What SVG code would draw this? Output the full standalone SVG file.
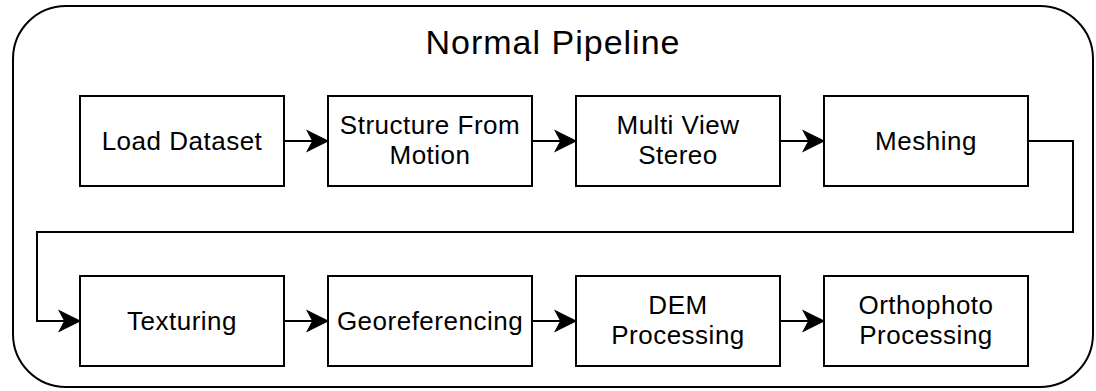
<svg xmlns="http://www.w3.org/2000/svg" width="1096" height="391" viewBox="0 0 1096 391">
<style>
.box{fill:#fff;stroke:#000;stroke-width:2}
.lbl{font-family:"Liberation Sans",Arial,sans-serif;font-size:26px;letter-spacing:0.5px;fill:#000;text-anchor:middle}
.title{font-family:"Liberation Sans",Arial,sans-serif;font-size:34px;letter-spacing:1px;fill:#000;text-anchor:middle}
.conn{fill:none;stroke:#000;stroke-width:2;marker-end:url(#arr)}
</style>
<defs>
<marker id="arr" markerUnits="userSpaceOnUse" markerWidth="24" markerHeight="24" viewBox="-20 -11 22 22" refX="0" refY="0" orient="auto">
<path d="M0,0 L-19,-9.5 L-14,0 L-19,9.5 Z" fill="#000" stroke="#000" stroke-width="1"/>
</marker>
</defs>
<g id="container">
<rect x="13" y="6" width="1080" height="381" rx="53" ry="53" fill="#fff" stroke="#000" stroke-width="2"/>
<text class="title" x="553" y="54">Normal Pipeline</text>
</g>
<g id="connectors">
<path class="conn" d="M284,141 H328"/>
<path class="conn" d="M532,141 H576"/>
<path class="conn" d="M780,141 H824"/>
<path class="conn" d="M1028,141 H1073 V232 H37 V321 H80"/>
<path class="conn" d="M284,321 H328"/>
<path class="conn" d="M532,321 H576"/>
<path class="conn" d="M780,321 H824"/>
</g>
<g id="load-dataset">
<rect class="box" x="80" y="96" width="204" height="90"/>
<text class="lbl" x="182" y="150">Load Dataset</text>
</g>
<g id="structure-from-motion">
<rect class="box" x="328" y="96" width="204" height="90"/>
<text class="lbl" x="430" y="134">Structure From</text>
<text class="lbl" x="430" y="164">Motion</text>
</g>
<g id="multi-view-stereo">
<rect class="box" x="576" y="96" width="204" height="90"/>
<text class="lbl" x="678" y="134">Multi View</text>
<text class="lbl" x="678" y="164">Stereo</text>
</g>
<g id="meshing">
<rect class="box" x="824" y="96" width="204" height="90"/>
<text class="lbl" x="926" y="150">Meshing</text>
</g>
<g id="texturing">
<rect class="box" x="80" y="276" width="204" height="90"/>
<text class="lbl" x="182" y="330">Texturing</text>
</g>
<g id="georeferencing">
<rect class="box" x="328" y="276" width="204" height="90"/>
<text class="lbl" x="430" y="330">Georeferencing</text>
</g>
<g id="dem-processing">
<rect class="box" x="576" y="276" width="204" height="90"/>
<text class="lbl" x="678" y="314">DEM</text>
<text class="lbl" x="678" y="344">Processing</text>
</g>
<g id="orthophoto-processing">
<rect class="box" x="824" y="276" width="204" height="90"/>
<text class="lbl" x="926" y="314">Orthophoto</text>
<text class="lbl" x="926" y="344">Processing</text>
</g>
</svg>
